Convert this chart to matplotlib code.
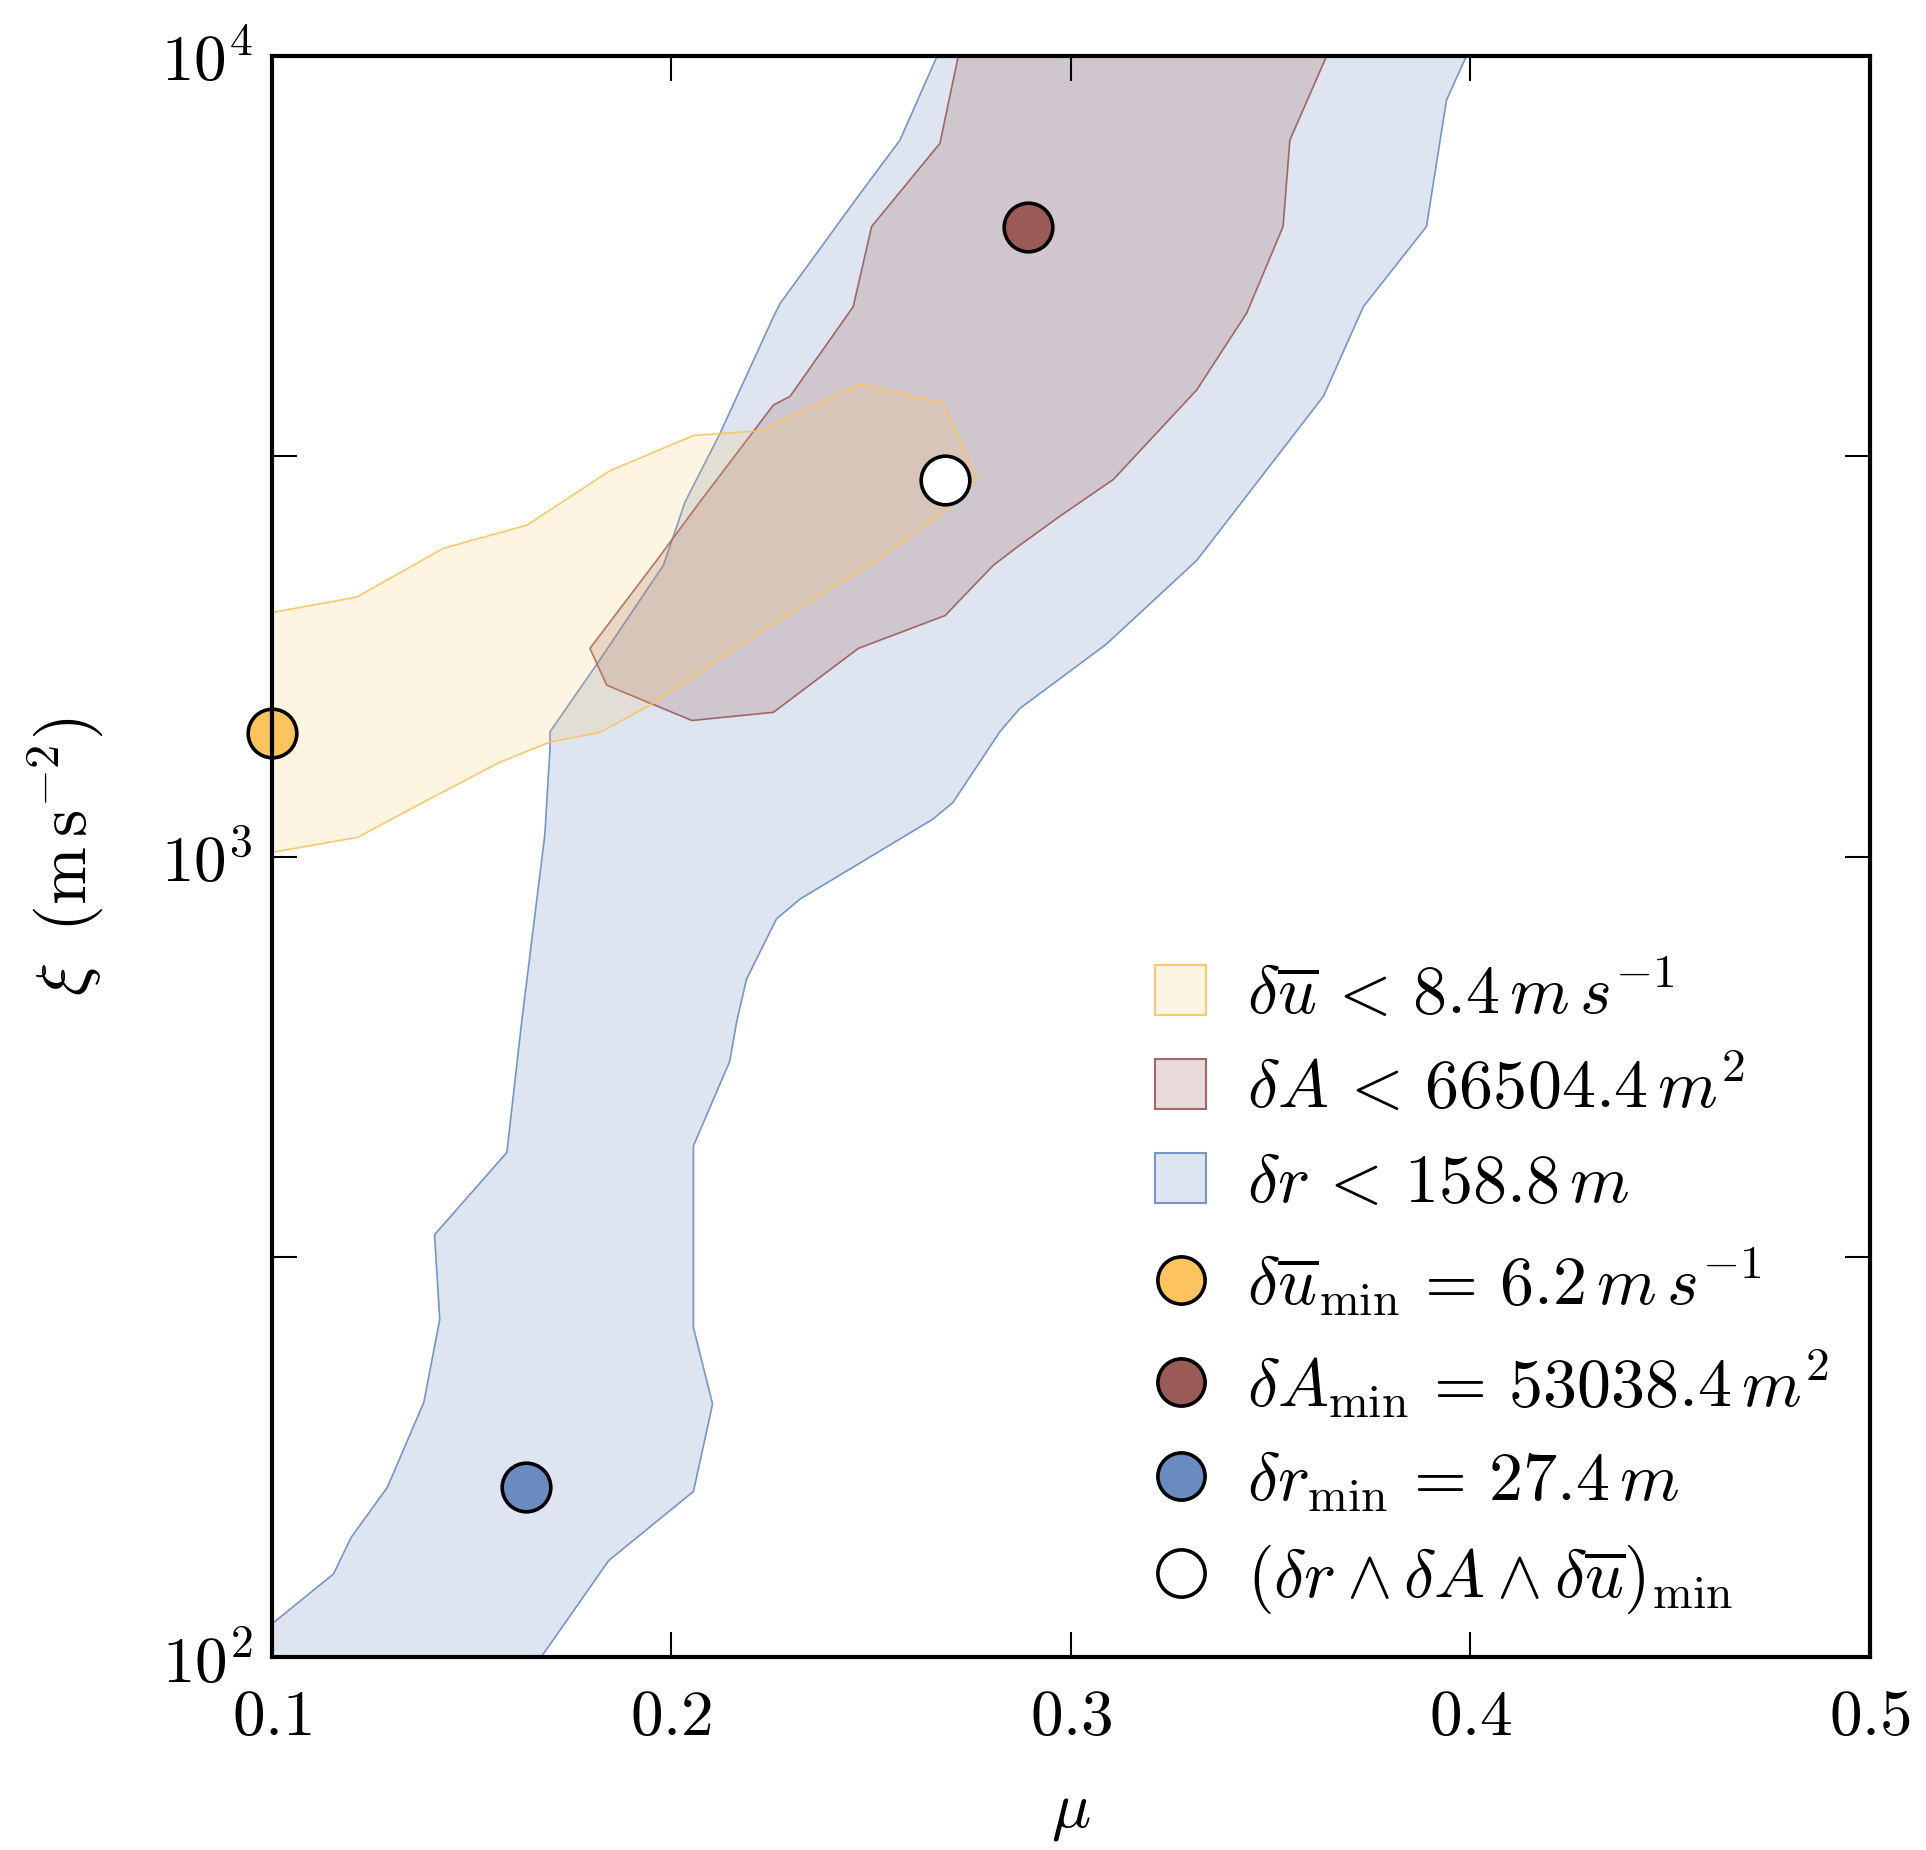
import numpy as np
import matplotlib
matplotlib.use('Agg')
import matplotlib.pyplot as plt
from matplotlib.patches import Patch
from matplotlib.lines import Line2D

plt.rcParams['mathtext.fontset'] = 'cm'
plt.rcParams['font.family'] = 'serif'
plt.rcParams['font.serif'] = ['DejaVu Serif']

# region boundaries (mu, xi)
r_mu = [0.100, 0.100, 0.1154, 0.1198, 0.1289, 0.138, 0.142, 0.1407, 0.1588, 0.1625,
        0.1683, 0.1696, 0.1696, 0.1817, 0.198, 0.2034, 0.2121, 0.2255, 0.2272, 0.2472,
        0.2572, 0.2665, 0.399, 0.394, 0.389, 0.3732, 0.3632, 0.3315, 0.3088, 0.2872,
        0.2822, 0.2705, 0.2655, 0.2322, 0.2263, 0.2188, 0.2163, 0.2146, 0.2055, 0.2055,
        0.2103, 0.2055, 0.1843, 0.1674]
r_xi = [100, 110, 127, 141, 163, 208, 264, 337, 427, 621,
        1064, 1365, 1432, 1750, 2312, 2773, 3373, 4721, 4909, 6730,
        7852, 10000, 10000, 8810, 6124, 4864, 3758, 2344, 1841, 1531,
        1432, 1169, 1114, 885, 836, 703, 621, 555, 435, 258,
        207, 161, 132, 100]

A_mu = [0.2718, 0.2672, 0.2501, 0.2455, 0.2297, 0.2255, 0.2071, 0.1963, 0.1796, 0.1838,
        0.2051, 0.2255, 0.2468, 0.2685, 0.2806, 0.2872, 0.2972, 0.3106, 0.3315, 0.344,
        0.3531, 0.3548, 0.364]
A_xi = [10000, 7780, 6124, 4864, 3758, 3664, 2773, 2344, 1820, 1637,
        1479, 1514, 1820, 2000, 2312, 2449, 2661, 2958, 3828, 4775,
        6124, 7852, 10000]

u_mu = [0.100, 0.1212, 0.1429, 0.1638, 0.1696, 0.1846, 0.2055, 0.2222, 0.2472, 0.268,
        0.2764, 0.2689, 0.2514, 0.2238, 0.1946, 0.1821, 0.1696, 0.1571, 0.1379, 0.1215,
        0.100]
u_xi = [2018, 2109, 2427, 2594, 2710, 3034, 3357, 3404, 3890, 3690,
        2965, 2716, 2344, 1928, 1545, 1429, 1390, 1312, 1169, 1057,
        1012]

# minima
min_mu = [0.100, 0.2893, 0.1636, 0.2685]
min_xi = [1426, 6124, 163, 2951]

c_u = '#fcc35f'
c_A = '#9a5a57'
c_r = '#6a8bbf'

labels = [r'$\delta\overline{u}\, <\, 8.4\,m\,s^{-1}$',
          r'$\delta A\, <\, 66504.4\,m^2$',
          r'$\delta r\, <\, 158.8\,m$',
          r'$\delta\overline{u}_{\min}\, =\, 6.2\,m\,s^{-1}$',
          r'$\delta A_{\min}\, =\, 53038.4\,m^2$',
          r'$\delta r_{\min}\, =\, 27.4\,m$',
          r'$(\delta r \wedge \delta A \wedge \delta\overline{u})_{\min}$']

fig = plt.figure(figsize=(19.26, 18.5), dpi=100)
ax = fig.add_axes([0.1412, 0.1043, 0.8297, 0.8654])

def rgba(c, a):
    r, g, b, _ = matplotlib.colors.to_rgba(c)
    return (r, g, b, a)

ax.fill(r_mu, r_xi, facecolor=rgba(c_r, 0.22), edgecolor=rgba(c_r, 0.9), lw=1.2, zorder=1)
ax.fill(A_mu, A_xi, facecolor=rgba(c_A, 0.22), edgecolor=rgba(c_A, 0.9), lw=1.2, zorder=1.1)
ax.fill(u_mu, u_xi, facecolor=rgba(c_u, 0.18), edgecolor=rgba(c_u, 0.9), lw=1.2, zorder=1.2)

mk = dict(marker='o', ms=35, mew=2.6, mec='k', ls='none', clip_on=False, zorder=2)
for m, x, c in zip(min_mu, min_xi, [c_u, c_A, c_r, 'white']):
    ax.plot(m, x, mfc=c, **mk)

ax.set_yscale('log')
ax.set_xlim(0.1, 0.5)
ax.set_ylim(100, 10000)

ax.set_xticks([0.1, 0.2, 0.3, 0.4, 0.5])
ax.set_xticklabels([r'$0.1$', r'$0.2$', r'$0.3$', r'$0.4$', r'$0.5$'])
ax.set_yticks([100, 10**2.5, 1000, 10**3.5, 10000])
ax.set_yticklabels([r'$10^2$', '', r'$10^3$', '', r'$10^4$'])
ax.yaxis.set_minor_locator(matplotlib.ticker.NullLocator())
ax.tick_params(direction='in', length=18, width=1.5, labelsize=47,
               top=True, right=True)
ax.tick_params(axis='x', pad=20)
ax.tick_params(axis='y', pad=14)
for s in ax.spines.values():
    s.set_linewidth(3)

ax.set_xlabel(r'$\mu$', fontsize=47, labelpad=22)
ax.set_ylabel(r'$\xi\;\;(\mathrm{m\,s^{-2}})$', fontsize=50, labelpad=40)

handles = [Patch(facecolor=rgba(c_u, 0.18), edgecolor=rgba(c_u, 0.9), lw=1.5),
           Patch(facecolor=rgba(c_A, 0.22), edgecolor=rgba(c_A, 0.9), lw=1.5),
           Patch(facecolor=rgba(c_r, 0.22), edgecolor=rgba(c_r, 0.9), lw=1.5)]
for c in [c_u, c_A, c_r, 'white']:
    handles.append(Line2D([], [], marker='o', ms=34, mew=2.6, mec='k', mfc=c, ls='none'))

ax.legend(handles, labels, loc='lower right', frameon=False, fontsize=49,
          handlelength=0.75, handleheight=0.75, handletextpad=0.6,
          labelspacing=0.42, borderaxespad=0.2)

fig.savefig('out.png', dpi=100)
